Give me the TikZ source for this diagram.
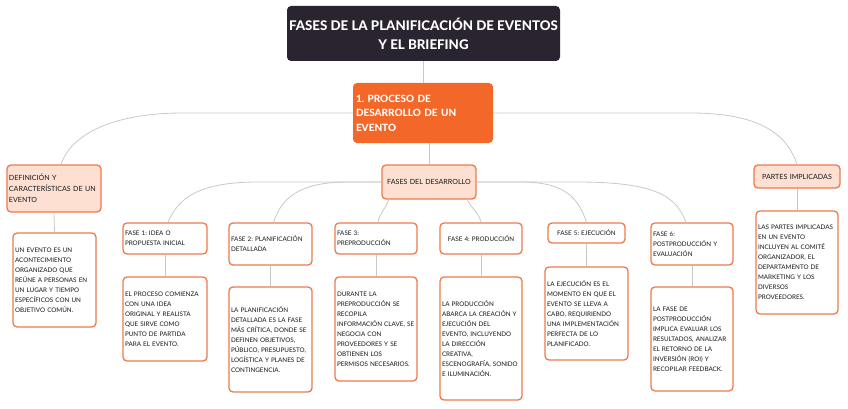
\documentclass[tikz,border=0pt]{standalone}
\usepackage{fontspec}
\setmainfont{Lato}
\newfontfamily\heavyfont{Lato Heavy}
\newfontfamily\medfont{Lato Medium}
\usetikzlibrary{calc}
\definecolor{titlebg}{RGB}{42,36,48}
\definecolor{mainorange}{RGB}{243,103,40}
\definecolor{boxorange}{RGB}{238,122,76}
\definecolor{peach}{RGB}{253,224,210}
\definecolor{conngray}{RGB}{200,200,200}
\definecolor{txt}{RGB}{40,40,40}
\tikzset{
  boxbase/.style={draw=boxorange, line width=1.3pt, rounded corners=4pt, inner xsep=2pt, inner ysep=0pt, text=txt, font=\medfont\fontsize{6.3}{10}\selectfont},
  desc/.style={boxbase, fill=white, align=left},
  topic/.style={boxbase, fill=peach, align=left, font=\medfont\fontsize{7.1}{11}\selectfont},
  conn/.style={draw=conngray, line width=0.8pt},
}
\frenchspacing
\begin{document}
\begin{tikzpicture}[x=1pt,y=-1pt]
\useasboundingbox (0,0) rectangle (848,409);
% title
\node[fill=titlebg, rounded corners=4pt, minimum width=273pt, minimum height=55pt, inner sep=0pt, text=white, align=center, font=\heavyfont\fontsize{13.3}{19}\selectfont] (title) at (423.5,33.5) {FASES DE LA PLANIFICACIÓN DE EVENTOS\\Y EL BRIEFING};
% central
\node[fill=mainorange, rounded corners=4pt, text width=134pt, minimum height=60pt, inner xsep=3pt, inner ysep=0pt, text=white, align=left, font=\heavyfont\fontsize{10}{14.5}\selectfont] (orange) at (423,113) {1. PROCESO DE\\DESARROLLO DE UN\\EVENTO};
% second level
\node[topic, text width=90pt, minimum height=47pt] (defi) at (54,188.5) {DEFINICIÓN Y\\CARACTERÍSTICAS DE UN\\EVENTO};
\node[topic, text width=90pt, minimum height=34pt, align=center] (fases) at (429,182) {FASES DEL DESARROLLO};
\node[topic, text width=82pt, minimum height=23pt, align=center] (partes) at (797,176.5) {PARTES IMPLICADAS};
% descriptions
\node[desc, text width=79pt, minimum height=94pt] (d0) at (54.5,280) {UN EVENTO ES UN\\ACONTECIMIENTO\\ORGANIZADO QUE\\REÚNE A PERSONAS EN\\UN LUGAR Y TIEMPO\\ESPECÍFICOS CON UN\\OBJETIVO COMÚN.};
\node[desc, text width=78pt, minimum height=103pt] (d7) at (797,262.5) {LAS PARTES IMPLICADAS\\EN UN EVENTO\\INCLUYEN AL COMITÉ\\ORGANIZADOR, EL\\DEPARTAMENTO DE\\MARKETING Y LOS\\DIVERSOS\\PROVEEDORES.};
% phases
\node[desc, text width=80pt, minimum height=31pt] (f1) at (165,238.5) {FASE 1: IDEA O\\PROPUESTA INICIAL};
\node[desc, text width=80pt, minimum height=84pt] (d1) at (165,319) {EL PROCESO COMIENZA\\CON UNA IDEA\\ORIGINAL Y REALISTA\\QUE SIRVE COMO\\PUNTO DE PARTIDA\\PARA EL EVENTO.};
\node[desc, text width=79pt, minimum height=42pt] (f2) at (270.5,244) {FASE 2: PLANIFICACIÓN\\DETALLADA};
\node[desc, text width=79pt, minimum height=105pt] (d2) at (270.5,339.5) {LA PLANIFICACIÓN\\DETALLADA ES LA FASE\\MÁS CRÍTICA, DONDE SE\\DEFINEN OBJETIVOS,\\PÚBLICO, PRESUPUESTO,\\LOGÍSTICA Y PLANES DE\\CONTINGENCIA.};
\node[desc, text width=78pt, minimum height=31pt] (f3) at (376,238.5) {FASE 3:\\PREPRODUCCIÓN};
\node[desc, text width=78pt, minimum height=104pt] (d3) at (376,329) {DURANTE LA\\PREPRODUCCIÓN SE\\RECOPILA\\INFORMACIÓN CLAVE, SE\\NEGOCIA CON\\PROVEEDORES Y SE\\OBTIENEN LOS\\PERMISOS NECESARIOS.};
\node[desc, text width=78pt, minimum height=31pt, align=center] (f4) at (481,238.5) {FASE 4: PRODUCCIÓN};
\node[desc, text width=78pt, minimum height=123pt] (d4) at (481,338.5) {LA PRODUCCIÓN\\ABARCA LA CREACIÓN Y\\EJECUCIÓN DEL\\EVENTO, INCLUYENDO\\LA DIRECCIÓN\\CREATIVA,\\ESCENOGRAFÍA, SONIDO\\E ILUMINACIÓN.};
\node[desc, text width=73pt, minimum height=20pt, align=center] (f5) at (586.5,233) {FASE 5: EJECUCIÓN};
\node[desc, text width=79pt, minimum height=93pt] (d5) at (586.5,313.5) {LA EJECUCIÓN ES EL\\MOMENTO EN QUE EL\\EVENTO SE LLEVA A\\CABO, REQUIRIENDO\\UNA IMPLEMENTACIÓN\\PERFECTA DE LO\\PLANIFICADO.};
\node[desc, text width=78pt, minimum height=42pt] (f6) at (692,244) {FASE 6:\\POSTPRODUCCIÓN Y\\EVALUACIÓN};
\node[desc, text width=78pt, minimum height=104pt] (d6) at (692,339) {LA FASE DE\\POSTPRODUCCIÓN\\IMPLICA EVALUAR LOS\\RESULTADOS, ANALIZAR\\EL RETORNO DE LA\\INVERSIÓN (ROI) Y\\RECOPILAR FEEDBACK.};
% connectors
\draw[conn] (title.south) -- (title.south |- orange.north);
\draw[conn] (fases.north |- orange.south) -- (fases.north);
\draw[conn] (orange.west) -- ($(orange.west)+(-170,0)$) .. controls +(-70,0) and +(10,-30) .. ($(defi.north)+(7,0)$);
\draw[conn] (orange.east) -- ($(orange.east)+(197,0)$) .. controls +(70,0) and +(-10,-30) .. (partes.north);
\draw[conn] (fases.west) -- ($(fases.west)+(-123,0)$) .. controls +(-60,0) and +(10,-24) .. ($(f1.north)+(3,0)$);
\draw[conn] (fases.west) -- ($(fases.west)+(-33,0)$) .. controls +(-50,0) and +(8,-24) .. ($(f2.north)+(3,0)$);
\draw[conn] ($(fases.south)+(-40,-1)$) .. controls +(-3,10) and +(2,-10) .. ($(f3.north)+(2,0)$);
\draw[conn] ($(fases.south)+(38,-1)$) .. controls +(4,10) and +(-2,-10) .. (f4.north);
\draw[conn] (fases.east) -- ($(fases.east)+(44,0)$) .. controls +(45,0) and +(-8,-24) .. (f5.north);
\draw[conn] (fases.east) -- ($(fases.east)+(100,0)$) .. controls +(80,0) and +(-10,-26) .. ($(f6.north)+(-6,0)$);
\draw[conn] (defi.south) -- (d0.north);
\draw[conn] (partes.south) -- (d7.north);
\draw[conn] (f1.south) -- (d1.north);
\draw[conn] (f2.south) -- (d2.north);
\draw[conn] (f3.south) -- (d3.north);
\draw[conn] (f4.south) -- (d4.north);
\draw[conn] (f5.south) -- (d5.north);
\draw[conn] (f6.south) -- (d6.north);
\end{tikzpicture}
\end{document}
